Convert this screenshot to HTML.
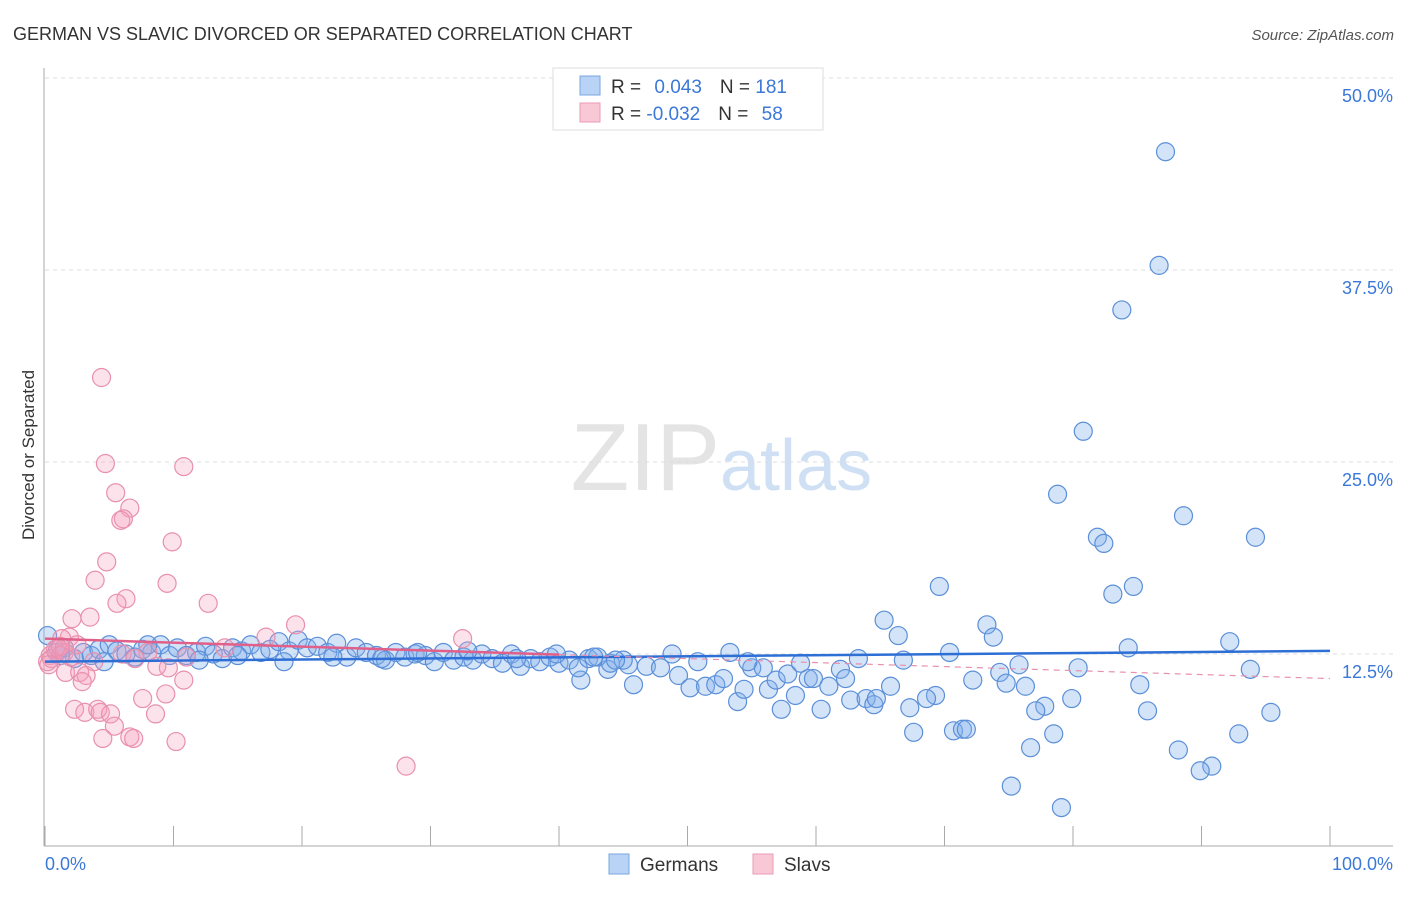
<!DOCTYPE html>
<html><head><meta charset="utf-8"><style>
body{margin:0;background:#fff;font-family:"Liberation Sans",sans-serif}
svg text{font-family:"Liberation Sans",sans-serif}
</style></head><body>
<svg id="c" width="1406" height="892">
<text x="13" y="40" font-size="18" fill="#333">GERMAN VS SLAVIC DIVORCED OR SEPARATED CORRELATION CHART</text>
<text x="1394" y="40" font-size="15" fill="#555" font-style="italic" text-anchor="end">Source: ZipAtlas.com</text>
<text x="720" y="490" font-size="96" fill="#e4e4e4" text-anchor="end" font-family="Liberation Serif">ZIP</text>
<text x="720" y="490" font-size="72" fill="#cfe0f5">atlas</text>
<text x="34" y="455" font-size="17" fill="#333" text-anchor="middle" transform="rotate(-90 34 455)">Divorced or Separated</text>
<g id="grid"></g><g id="axes"></g><g id="pts"></g><g id="trend"></g>
<g>
<rect x="553" y="68" width="270" height="62" fill="#fff" stroke="#ddd"/>
<rect x="580" y="76" width="20" height="19" fill="#b8d3f5" stroke="#7aa7e0"/>
<rect x="580" y="103" width="20" height="19" fill="#f8c8d6" stroke="#eb9ab3"/>
<text x="611" y="93" font-size="19" fill="#333">R = <tspan fill="#3b78d8" dx="8">0.043</tspan><tspan dx="18" fill="#333">N = </tspan><tspan fill="#3b78d8">181</tspan></text>
<text x="611" y="120" font-size="19" fill="#333">R = <tspan fill="#3b78d8">-0.032</tspan><tspan dx="18" fill="#333">N = </tspan><tspan fill="#3b78d8" dx="8">58</tspan></text>
</g>
<g>
<rect x="609" y="854" width="20" height="20" fill="#b8d3f5" stroke="#7aa7e0"/>
<text x="640" y="871" font-size="19" fill="#333">Germans</text>
<rect x="753" y="854" width="20" height="20" fill="#f8c8d6" stroke="#eb9ab3"/>
<text x="784" y="871" font-size="19" fill="#333">Slavs</text>
</g>
</svg>
<script>
const yTicks=[12.5,25,37.5,50];
const yTickLabels=["12.5%","25.0%","37.5%","50.0%"];
const xTickVals=[0,10,20,30,40,50,60,70,80,90,100];
const blueX=[87.2,86.7,83.8,80.8,78.8,88.6,81.9,82.4,94.2,84.7,83.1,69.6,65.3,73.3,66.4,73.8,92.2,84.3,70.4,63.3,66.8,75.8,80.4,93.8,74.3,72.2,74.8,76.3,85.2,65.8,69.3,68.6,79.9,77.8,77.1,67.3,85.8,95.4,67.6,70.7,71.4,71.7,78.5,92.9,76.7,88.2,90.8,89.9,75.2,79.1,
45.8,49.3,50.2,51.4,52.2,52.8,53.9,54.4,55,55.9,56.3,56.9,57.3,57.8,58.4,58.8,59.4,59.8,60.4,61,61.9,62.3,62.7,63.9,64.5,64.7,41.7,43.8,45.4,46.8,47.9,48.8,50.8,53.3,54.7,
0.2,0.9,1.5,2.3,3.0,3.6,4.2,5.0,5.6,6.3,7.0,7.6,8.3,9.0,9.7,10.3,11.0,11.8,12.5,13.1,13.8,14.6,15.3,16.0,16.8,17.5,18.2,19.0,19.7,20.4,21.2,22.0,22.7,23.5,24.2,25.0,25.8,26.5,27.3,28.0,28.8,29.6,30.3,31.0,31.8,32.6,33.3,34.0,34.8,35.6,36.3,37.0,37.8,38.5,39.3,40.0,40.8,41.5,42.3,43.0,44.0,45.0,1.2,4.6,8.0,12.0,15.0,18.6,22.4,26.2,29.0,32.9,36.7,39.8,42.7,44.4];
const blueY=[45.2,37.8,34.9,27.0,22.9,21.5,20.1,19.7,20.1,16.9,16.4,16.9,14.7,14.4,13.7,13.6,13.3,12.9,12.6,12.2,12.1,11.8,11.6,11.5,11.3,10.8,10.6,10.4,10.5,10.4,9.8,9.6,9.6,9.1,8.8,9.0,8.8,8.7,7.4,7.5,7.6,7.6,7.3,7.3,6.4,6.25,5.2,4.9,3.9,2.5,
10.5,11.1,10.3,10.4,10.5,10.9,9.4,10.2,11.6,11.6,10.2,10.8,8.9,11.2,9.8,11.9,10.9,10.9,8.9,10.4,11.5,10.9,9.5,9.6,9.2,9.6,10.8,11.5,11.8,11.7,11.6,12.5,12.0,12.6,12.0,
13.7,12.6,12.9,12.2,12.6,12.4,12.8,13.1,12.7,12.5,12.3,12.8,12.6,13.1,12.4,12.9,12.4,12.6,13.0,12.5,12.2,12.9,12.7,13.1,12.6,12.8,13.3,12.7,13.4,12.9,13.0,12.6,13.2,12.3,12.9,12.6,12.4,12.1,12.6,12.3,12.5,12.4,12.0,12.6,12.1,12.3,12.1,12.5,12.2,11.9,12.5,11.7,12.2,12.0,12.3,11.9,12.1,11.6,12.2,12.3,11.9,12.1,12.4,12.0,13.1,12.1,12.4,12.0,12.3,12.2,12.6,12.7,12.2,12.5,12.3,12.1];
const pinkX=[4.4,4.7,10.8,5.5,6.6,6.1,5.9,4.8,9.9,9.5,3.9,6.3,5.6,12.7,2.1,3.5,17.2,19.5,32.5,1.9,1.3,0.4,0.2,1.6,2.7,3.2,2.9,3.8,10.8,9.6,8.7,7.6,9.4,2.3,3.1,4.1,4.3,5.1,8.6,5.4,4.5,6.6,6.9,10.2,28.1,0.8,0.5,1.0,1.5,2.0,2.5,0.3,6.0,7.0,8.0,11.0,14.0,1.2];
const pinkY=[30.5,24.9,24.7,23.0,22.0,21.3,21.2,18.5,19.8,17.1,17.3,16.1,15.8,15.8,14.8,14.9,13.6,14.4,13.5,13.6,13.5,12.4,12.0,11.3,11.3,11.1,10.7,12.0,10.8,11.6,11.7,9.6,9.9,8.9,8.7,8.9,8.7,8.6,8.6,7.8,7.0,7.1,7.0,6.8,5.2,12.8,12.2,12.9,12.6,12.3,13.1,11.8,12.5,12.2,12.6,12.3,12.9,13.0];
const blueTrend=[12.0,12.7];
const pinkTrend=[13.5,10.9];
const pinkSolidEnd=40;
const NS="http://www.w3.org/2000/svg";
const xs=v=>45+v*12.85, ys=v=>846-v*15.36;
function mk(p,t,a){const e=document.createElementNS(NS,t);for(const k in a)e.setAttribute(k,a[k]);document.getElementById(p).appendChild(e);return e;}
yTicks.forEach((t,i)=>{
 const g=mk('grid','line',{x1:45,x2:1393,y1:ys(t),y2:ys(t),stroke:'#ddd','stroke-dasharray':'4,4'});
 
 
 const l=mk('grid','text',{x:1393,y:ys(t)+24,'font-size':18,fill:'#3b78d8','text-anchor':'end'});
 l.textContent=yTickLabels[i];
 
 
});
const ax=mk('axes','line',{x1:44,x2:44,y1:68,y2:846,stroke:'#aaa'});


const bx=mk('axes','line',{x1:44,x2:1393,y1:846,y2:846,stroke:'#aaa'});


xTickVals.forEach(v=>{const t=mk('axes','line',{x1:xs(v),x2:xs(v),y1:826,y2:846,stroke:'#aaa'});
 
 });
const x0=mk('axes','text',{x:45,y:870,'font-size':18,fill:'#3b78d8'});x0.textContent='0.0%';


const x1=mk('axes','text',{x:1393,y:870,'font-size':18,fill:'#3b78d8','text-anchor':'end'});x1.textContent='100.0%';


blueX.forEach((v,i)=>{const c=mk('pts','circle',{cx:xs(v),cy:ys(blueY[i]),r:9,fill:'rgba(130,175,235,0.35)',stroke:'#5b8fd8','stroke-width':1.2});
 
 });
pinkX.forEach((v,i)=>{const c=mk('pts','circle',{cx:xs(v),cy:ys(pinkY[i]),r:9,fill:'rgba(245,160,190,0.3)',stroke:'#e890ad','stroke-width':1.2});
 
 });
const pAt=v=>pinkTrend[0]+(pinkTrend[1]-pinkTrend[0])*v/100;
const bt=mk('trend','line',{x1:xs(0),x2:xs(100),y1:ys(blueTrend[0]),y2:ys(blueTrend[1]),stroke:'#2e6fd6','stroke-width':2.5});


const ps=mk('trend','line',{x1:xs(0),x2:xs(pinkSolidEnd),y1:ys(pAt(0)),y2:ys(pAt(pinkSolidEnd)),stroke:'#e0608a','stroke-width':2.5});


const pd=mk('trend','line',{x1:xs(pinkSolidEnd),x2:xs(100),y1:ys(pAt(pinkSolidEnd)),y2:ys(pAt(100)),stroke:'#e890ad','stroke-width':1.2,'stroke-dasharray':'6,5'});


</script>
</body></html>
